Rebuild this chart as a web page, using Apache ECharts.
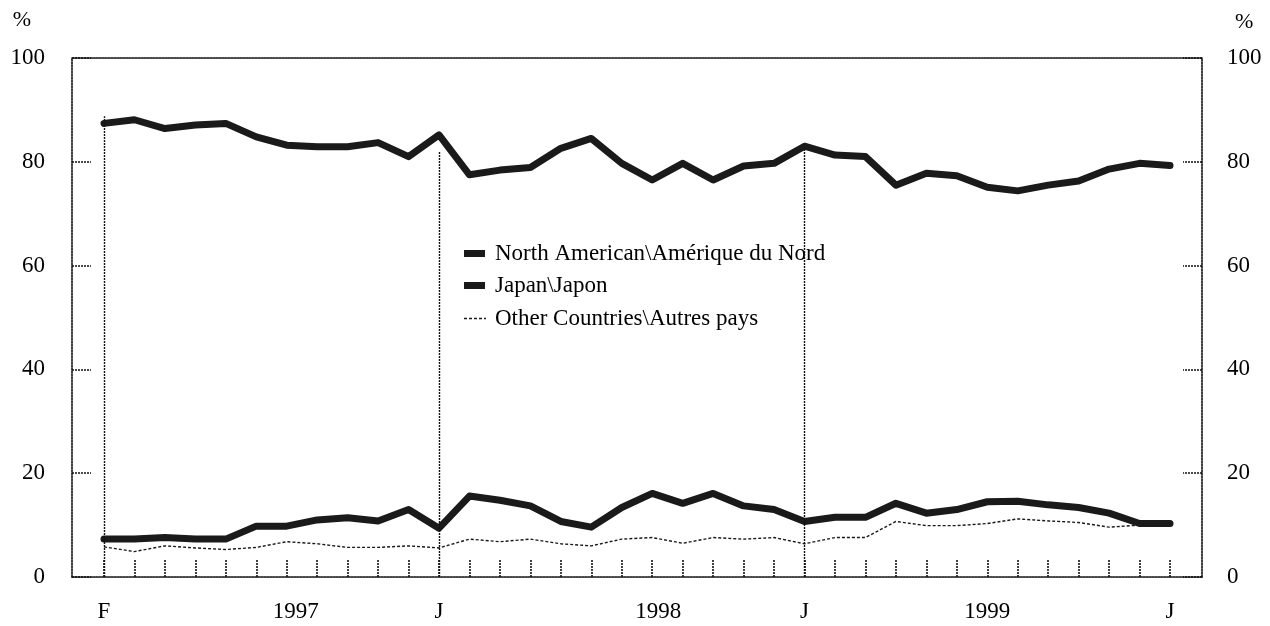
<!DOCTYPE html>
<html>
<head>
<meta charset="utf-8">
<script src="https://cdn.jsdelivr.net/npm/echarts@6/dist/echarts.min.js"></script>
<style>
html,body{margin:0;padding:0;background:#fff;}
#chart{width:1270px;height:626px;}
</style>
</head>
<body>
<div id="chart"></div>
<script>
// Monthly observations (36 months)
const northAmerica = [87.4, 88.1, 86.4, 87.1, 87.4, 84.8, 83.2, 82.9, 82.9, 83.7, 81.0, 85.2,
  77.5, 78.4, 78.9, 82.6, 84.5, 79.7, 76.5, 79.7, 76.5, 79.2, 79.7, 83.0,
  81.3, 81.0, 75.5, 77.8, 77.3, 75.1, 74.4, 75.5, 76.3, 78.6, 79.7, 79.3];
const japan = [7.3, 7.3, 7.6, 7.3, 7.3, 9.8, 9.8, 11.0, 11.4, 10.8, 13.0, 9.4,
  15.6, 14.8, 13.7, 10.7, 9.6, 13.4, 16.1, 14.2, 16.1, 13.7, 13.0, 10.7,
  11.5, 11.5, 14.2, 12.3, 13.0, 14.5, 14.6, 13.9, 13.4, 12.3, 10.3, 10.3];
const others = [5.8, 4.9, 6.0, 5.6, 5.3, 5.7, 6.8, 6.4, 5.7, 5.7, 6.0, 5.6,
  7.3, 6.8, 7.3, 6.4, 6.0, 7.3, 7.6, 6.5, 7.6, 7.3, 7.6, 6.4,
  7.6, 7.6, 10.7, 9.9, 9.9, 10.3, 11.2, 10.8, 10.5, 9.6, 10.0, 10.2];
const seriesNames = ['North American\\Amérique du Nord', 'Japan\\Japon', 'Other Countries\\Autres pays'];
// x tick labels and the month index they sit under
const xTickLabels = ['F', '1997', 'J', '1998', 'J', '1999', 'J'];
const xTickMonths = [0, 6.3, 11, 18.2, 23, 29, 35];
// vertical divider marks: month index and top value
const dividerMonths = [0, 11, 23];
const dividerTops = [88.8, 82.0, 82.3];

const months = northAmerica.map((_, i) => i);
const toPairs = arr => arr.map((v, i) => [i, v]);

const FONT = 'Liberation Serif';
const INK = '#1a1a1a';
const dotted = {color: '#111', width: 1.6, type: [2, 1]};
const frameLine = {show: true, onZero: false, lineStyle: dotted};
const dashIcon = 'path://M0,0 M22,10 M0,4.3h3v1.4h-3z M5,4.3h3v1.4h-3z M10,4.3h3v1.4h-3z M15,4.3h3v1.4h-3z M20,4.3h2v1.4h-2z';

const chart = echarts.init(document.getElementById('chart'), null, {renderer: 'canvas'});
chart.setOption({
  animation: false,
  backgroundColor: '#fff',
  textStyle: {fontFamily: FONT, color: '#000'},
  grid: {left: 72, right: 68, top: 58, bottom: 49},
  legend: [{
    data: [seriesNames[0], seriesNames[1]],
    orient: 'vertical', left: 459, top: 237,
    icon: 'rect', itemWidth: 21, itemHeight: 7, itemGap: 9,
    textStyle: {fontFamily: FONT, fontSize: 23, color: '#000', padding: [0, 0, 0, 5]}
  }, {
    data: [{name: seriesNames[2], icon: dashIcon}],
    orient: 'vertical', left: 459, top: 302,
    itemWidth: 22, itemHeight: 10,
    textStyle: {fontFamily: FONT, fontSize: 23, color: '#000', padding: [0, 0, 0, 4]}
  }],
  xAxis: [{
    type: 'value', position: 'bottom',
    min: -1.05, max: 36.05,
    splitLine: {show: false},
    axisLine: frameLine,
    axisTick: {show: true, inside: true, length: 18, customValues: months, lineStyle: dotted},
    axisLabel: {customValues: xTickMonths, margin: 23, fontFamily: FONT, fontSize: 23, color: '#000',
      formatter: v => {
        const k = xTickMonths.findIndex(m => Math.abs(m - v) < 1e-6);
        return k >= 0 ? xTickLabels[k] : '';
      }}
  }, {
    type: 'value', position: 'top',
    min: -1.05, max: 36.05,
    splitLine: {show: false},
    axisLine: frameLine,
    axisTick: {show: false}, axisLabel: {show: false}
  }],
  yAxis: [{
    type: 'value', position: 'left', min: 0, max: 100, interval: 20,
    name: '%', nameLocation: 'end', nameGap: 27,
    nameTextStyle: {fontFamily: FONT, fontSize: 22, color: '#000', align: 'right', padding: [0, 41, 0, 0]},
    splitLine: {show: false},
    axisLine: frameLine,
    axisTick: {show: true, inside: true, length: 19, lineStyle: dotted},
    axisLabel: {margin: 27, fontFamily: FONT, fontSize: 23, color: '#000'}
  }, {
    type: 'value', position: 'right', min: 0, max: 100, interval: 20,
    name: '%', nameLocation: 'end', nameGap: 25,
    nameTextStyle: {fontFamily: FONT, fontSize: 22, color: '#000', align: 'left', padding: [0, 0, 0, 33]},
    splitLine: {show: false},
    axisLine: frameLine,
    axisTick: {show: true, inside: true, length: 19, lineStyle: dotted},
    axisLabel: {margin: 25, fontFamily: FONT, fontSize: 23, color: '#000'}
  }],
  series: [{
    name: seriesNames[0], type: 'line', data: toPairs(northAmerica),
    symbol: 'none', lineStyle: {color: INK, width: 7, cap: 'round', join: 'round'},
    itemStyle: {color: INK},
    markLine: {
      silent: true, symbol: 'none', label: {show: false},
      lineStyle: {color: '#111', width: 1.4, type: [2, 1]},
      data: dividerMonths.map((m, k) => [{coord: [m, 0]}, {coord: [m, dividerTops[k]]}])
    },
    z: 3
  }, {
    name: seriesNames[1], type: 'line', data: toPairs(japan),
    symbol: 'none', lineStyle: {color: INK, width: 7, cap: 'round', join: 'round'},
    itemStyle: {color: INK}, z: 3
  }, {
    name: seriesNames[2], type: 'line', data: toPairs(others),
    symbol: 'none', lineStyle: {color: INK, width: 1.4, type: [3, 2]},
    itemStyle: {color: INK}, z: 2
  }]
});
</script>
</body>
</html>
